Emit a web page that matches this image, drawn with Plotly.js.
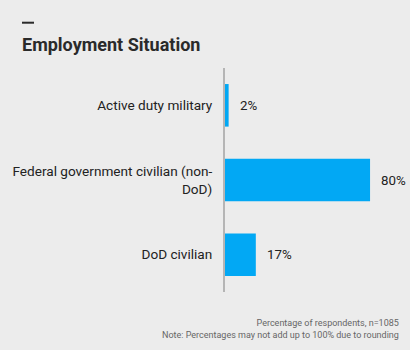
<!DOCTYPE html>
<html><head><meta charset="utf-8">
<script src="https://cdn.plot.ly/plotly-3.0.1.min.js"></script>
<style>html,body{margin:0;padding:0;background:#ececec;}#chart{width:410px;height:350px;}</style>
</head><body><div id="chart"></div>
<script>
const categories = ["Active duty military", "Federal government civilian (non-<br>DoD)", "DoD civilian"];
const values = [2, 80, 17];
const valueLabels = ["2%", "80%", "17%"];
const titleText = "Employment Situation";
const footnote1 = "Percentage of respondents, n=1085";
const footnote2 = "Note: Percentages may not add up to 100% due to rounding";

const font = "Roboto, 'Open Sans', sans-serif";
const trace = {
  type: "bar", orientation: "h",
  y: categories, x: values,
  marker: {color: "#02a8f4"},
  width: 0.57,
  hoverinfo: "none"
};
const annotations = values.map((v, i) => ({
  x: v, y: categories[i], xref: "x", yref: "y",
  text: valueLabels[i], showarrow: false,
  xanchor: "left", xshift: 9,
  font: {family: font, size: 13.3, color: "#222"}
}));
annotations.push({
  xref: "paper", yref: "paper", x: 1, y: 0, xanchor: "right", yanchor: "top",
  xshift: 11, yshift: -24, align: "right",
  text: footnote1 + "<br>" + footnote2, showarrow: false,
  font: {family: font, size: 9, color: "#666"}
});
const layout = {
  width: 410, height: 350,
  paper_bgcolor: "#ececec", plot_bgcolor: "#ececec",
  margin: {l: 225, r: 20, t: 67.5, b: 57.5},
  title: {text: "<b>" + titleText + "</b>", x: 22/410, xanchor: "left", xref: "container",
    y: 1 - 45/350, yref: "container", yanchor: "middle",
    font: {family: font, size: 18, color: "#2a2a2a"}},
  xaxis: {range: [0, 91], showgrid: false, zeroline: false, showticklabels: false, showline: false, fixedrange: true},
  yaxis: {autorange: "reversed", showgrid: false, zeroline: false, showline: true,
    linecolor: "#b5b5b5", linewidth: 2, ticks: "", ticklabelstandoff: 8,
    tickfont: {family: font, size: 13.6, color: "#222"}},
  shapes: [{type: "line", xref: "paper", yref: "paper",
    x0: (22-225)/165, x1: (34-225)/165, y0: 1 + (67.5-22)/225, y1: 1 + (67.5-22)/225,
    line: {color: "#2a2a2a", width: 2}}],
  annotations: annotations,
  showlegend: false
};
Plotly.newPlot("chart", [trace], layout, {displayModeBar: false, staticPlot: true});
</script></body></html>
